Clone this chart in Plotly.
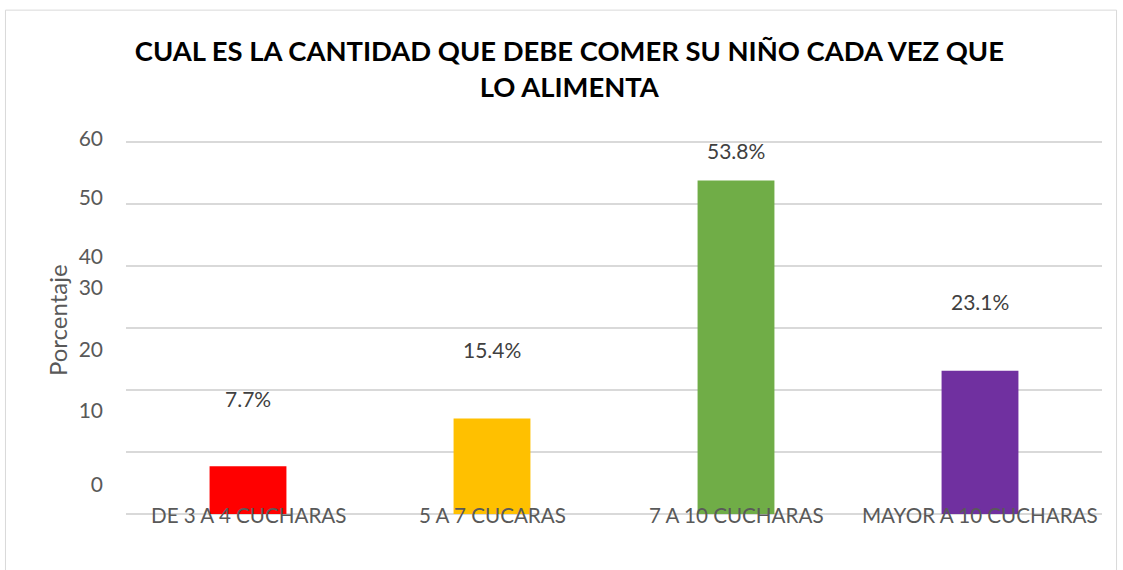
import plotly.graph_objects as go

categories = ["DE 3 A 4 CUCHARAS", "5 A 7 CUCARAS", "7 A 10 CUCHARAS", "MAYOR A 10 CUCHARAS"]
values = [7.7, 15.4, 53.8, 23.1]
value_labels = ["7.7%", "15.4%", "53.8%", "23.1%"]
bar_colors = ["#FF0000", "#FFC000", "#70AD47", "#7030A0"]
grid_vals = [0, 10, 20, 30, 40, 50, 60]
tick_label_positions = [4.7, 16.7, 26.5, 36.5, 41.5, 51.0, 60.6]
tick_label_text = ["0", "10", "20", "30", "40", "50", "60"]
label_shifts = [68, 69, 30, 69]

FONT = "Lato"
fig = go.Figure()
fig.add_trace(go.Bar(x=categories, y=values, marker=dict(color=bar_colors, line=dict(width=0)),
                     width=0.315, showlegend=False, hoverinfo="skip"))
# invisible trace to activate secondary y axis for tick labels
fig.add_trace(go.Scatter(x=categories, y=values, yaxis="y2", mode="markers",
                         marker=dict(opacity=0), showlegend=False, hoverinfo="skip"))

for c, v, t, s in zip(categories, values, value_labels, label_shifts):
    fig.add_annotation(x=c, y=v, text=t, showarrow=False, yanchor="middle", yshift=s,
                       font=dict(family=FONT, size=21, color="#404040"))
for c in categories:
    fig.add_annotation(x=c, y=0, text=c, showarrow=False, yanchor="middle", yshift=-1,
                       font=dict(family=FONT, size=20.6, color="#595959"))

fig.add_annotation(xref="paper", yref="paper", x=-0.0707, y=0.513, text="Porcentaje",
                   textangle=-90, showarrow=False, xanchor="center", yanchor="middle",
                   font=dict(family=FONT, size=24, color="#595959"))

fig.add_shape(type="rect", xref="paper", yref="paper", x0=-0.1235, x1=1.0149, y0=-0.3, y1=1.333,
              line=dict(color="#d9d9d9", width=1), fillcolor="rgba(0,0,0,0)", layer="below")

fig.update_layout(
    width=1123, height=570,
    margin=dict(l=126, r=21, t=136, b=56),
    paper_bgcolor="white", plot_bgcolor="white",
    title=dict(text="<b>CUAL ES LA CANTIDAD QUE DEBE COMER SU NIÑO CADA VEZ QUE<br>LO ALIMENTA</b>",
               x=0.507, xanchor="center", y=0.893, yanchor="top",
               font=dict(family=FONT, size=27.4, color="black")),
    xaxis=dict(showticklabels=False, showgrid=False, zeroline=False, showline=False, ticks=""),
    yaxis=dict(range=[0, 61], tickvals=grid_vals, showticklabels=False, showgrid=True,
               gridcolor="#d9d9d9", gridwidth=1.5, zeroline=True, zerolinecolor="#d9d9d9",
               zerolinewidth=1.5, showline=False, ticks=""),
    yaxis2=dict(range=[0, 61], overlaying="y", side="left", tickvals=tick_label_positions,
                ticktext=tick_label_text, showgrid=False, zeroline=False, showline=False,
                ticks="", ticklabelstandoff=22,
                tickfont=dict(family=FONT, size=21, color="#595959")),
    bargap=0.685,
)

fig.write_html("out.html", config={"displayModeBar": False},
               post_script="document.body.style.margin='0';")
